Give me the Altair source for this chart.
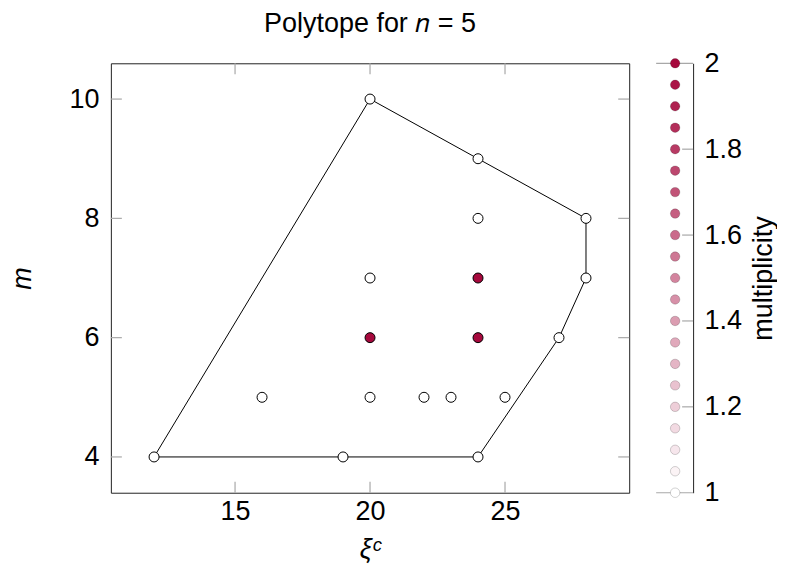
import altair as alt
import pandas as pd

# ---- data ----
hull_x = [12, 19, 24, 27, 28, 28, 24, 20, 12]
hull_y = [4, 4, 4, 6, 7, 8, 9, 10, 4]

pts_x = [12, 19, 24, 16, 20, 22, 23, 25, 20, 24, 27, 20, 24, 28, 24, 28, 24, 20]
pts_y = [4, 4, 4, 5, 5, 5, 5, 5, 6, 6, 6, 7, 7, 7, 8, 8, 9, 10]
pts_mult = [1, 1, 1, 1, 1, 1, 1, 1, 2, 2, 1, 1, 2, 1, 1, 1, 1, 1]

x_ticks = [15, 20, 25]
y_ticks = [4, 6, 8, 10]
cb_ticks = [1, 1.2, 1.4, 1.6, 1.8, 2]
cb_inner_ticks = [1.2, 1.4, 1.6, 1.8]
cb_edges = [1, 2]
cb_samples = [1.0, 1.05, 1.1, 1.15, 1.2, 1.25, 1.3, 1.35, 1.4, 1.45, 1.5,
              1.55, 1.6, 1.65, 1.7, 1.75, 1.8, 1.85, 1.9, 1.95, 2.0]

FONT = "Liberation Sans"
FS = 27
W, H = 519, 430
CBW = 37
TICK = 11
TICKC = "#a8a8a8"
FRAME = "#222222"
CMAP = ["#ffffff", "#a6093d"]

hull_df = pd.DataFrame({"i": list(range(len(hull_x))), "x": hull_x, "y": hull_y})
pts_df = pd.DataFrame({"x": pts_x, "y": pts_y, "mult": pts_mult})
xt_df = pd.DataFrame({"x": x_ticks})
yt_df = pd.DataFrame({"y": y_ticks})
cb_df = pd.DataFrame({"v": cb_samples})
cbt_df = pd.DataFrame({"v": cb_inner_ticks})
cbe_df = pd.DataFrame({"v": cb_edges})

xscale = alt.Scale(domain=[10.4, 29.6], nice=False, zero=False)
yscale = alt.Scale(domain=[3.4, 10.6], nice=False, zero=False)
cscale = alt.Scale(domain=[1, 2], range=CMAP, interpolate="rgb")

x_axis = alt.Axis(values=x_ticks, ticks=False, domain=False, grid=False,
                  labelFont=FONT, labelFontSize=FS, labelPadding=6, labelColor="black",
                  title="ξᶜ", titleFont=FONT, titleFontSize=FS, titleFontStyle="italic",
                  titleFontWeight="normal", titlePadding=12, titleColor="black")
y_axis = alt.Axis(values=y_ticks, ticks=False, domain=False, grid=False,
                  labelFont=FONT, labelFontSize=FS, labelPadding=12, labelColor="black",
                  title="m", titleFont=FONT, titleFontSize=FS, titleFontStyle="italic",
                  titleFontWeight="normal", titleX=-88, titleBaseline="middle",
                  titleColor="black")

X = alt.X("x:Q", scale=xscale, axis=x_axis, title="ξᶜ")
Y = alt.Y("y:Q", scale=yscale, axis=y_axis, title="m")

hull = alt.Chart(hull_df).mark_line(color="black", strokeWidth=1).encode(
    x=X, y=Y, order=alt.Order("i:Q"),
)

pts = alt.Chart(pts_df).mark_circle(size=100, opacity=1, stroke="black", strokeWidth=1).encode(
    x=X, y=Y,
    fill=alt.Fill("mult:Q", scale=cscale, legend=None),
)

xt_top = alt.Chart(xt_df).mark_rule(color=TICKC, strokeWidth=1.2).encode(
    x=X, y=alt.value(0), y2=alt.value(TICK))
xt_bot = alt.Chart(xt_df).mark_rule(color=TICKC, strokeWidth=1.2).encode(
    x=X, y=alt.value(H - TICK), y2=alt.value(H))
yt_left = alt.Chart(yt_df).mark_rule(color=TICKC, strokeWidth=1.2).encode(
    y=Y, x=alt.value(0), x2=alt.value(TICK))
yt_right = alt.Chart(yt_df).mark_rule(color=TICKC, strokeWidth=1.2).encode(
    y=Y, x=alt.value(W - TICK), x2=alt.value(W))

main = alt.layer(hull, pts, xt_top, xt_bot, yt_left, yt_right).properties(
    width=W, height=H,
    title=alt.TitleParams("Polytope for 𝑛 = 5", font=FONT, fontSize=FS, fontWeight="normal",
                          color="black", anchor="middle", offset=25),
    view=alt.ViewBackground(stroke=FRAME, strokeWidth=1),
)

cbscale = alt.Scale(domain=[1, 2], nice=False, zero=False)
cb_axis = alt.Axis(orient="right", values=cb_ticks, format="~g", ticks=False, domain=True,
                   domainColor=FRAME, domainWidth=1, grid=False,
                   labelFont=FONT, labelFontSize=FS, labelPadding=11, labelColor="black",
                   title="multiplicity", titleFont=FONT, titleFontSize=FS,
                   titleFontWeight="normal", titleAngle=270, titleX=78,
                   titleBaseline="alphabetic", titleColor="black")
CBY = alt.Y("v:Q", scale=cbscale, axis=cb_axis, title="multiplicity")

cb_dots = alt.Chart(cb_df).mark_circle(size=90, opacity=1, stroke="black",
                                        strokeOpacity=0.18, strokeWidth=1).encode(
    y=CBY,
    x=alt.value(19),
    fill=alt.Fill("v:Q", scale=cscale, legend=None),
)
cb_edge = alt.Chart(cbe_df).mark_rule(color=TICKC, strokeWidth=1.2).encode(
    y=CBY, x=alt.value(0), x2=alt.value(CBW))
cb_tick = alt.Chart(cbt_df).mark_rule(color=TICKC, strokeWidth=1.2).encode(
    y=CBY, x=alt.value(CBW - TICK), x2=alt.value(CBW))

cbar = alt.layer(cb_edge, cb_tick, cb_dots).properties(
    width=CBW, height=H,
    view=alt.ViewBackground(stroke="transparent"),
)

chart = alt.hconcat(main, cbar, spacing=23).properties(
    padding={"left": 0, "top": 0, "right": 0, "bottom": 0},
    background="white",
).resolve_scale(fill="independent")

chart.save("out.html", embed_options={"renderer": "svg", "actions": False})
